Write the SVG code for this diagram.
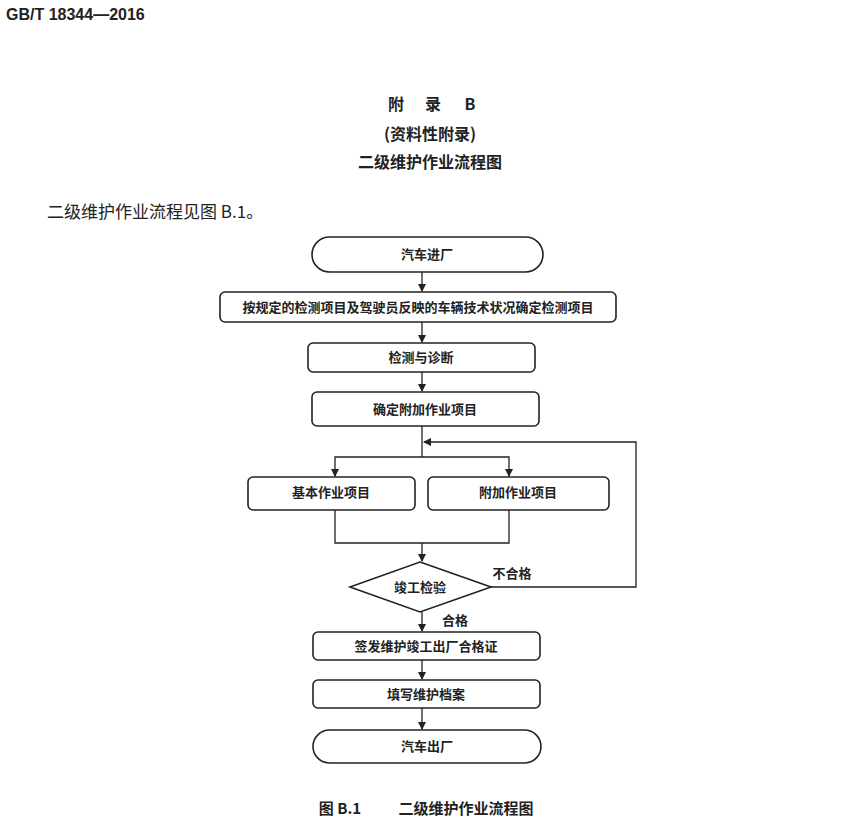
<svg xmlns="http://www.w3.org/2000/svg" width="850" height="838" viewBox="0 0 850 838">
<defs>
<marker id="ah" markerWidth="8" markerHeight="10" refX="7" refY="4" orient="auto" markerUnits="userSpaceOnUse"><path d="M0,0 L8,4 L0,8 Z" fill="#222"/></marker>
<style>
.b{fill:#fff;stroke:#222;stroke-width:1.6}
.t{font-family:"Noto Sans CJK SC","Liberation Sans",sans-serif;font-size:13px;font-weight:bold;fill:#222;text-anchor:middle}
.c{fill:none;stroke:#222;stroke-width:1.3}
</style>
</defs>
<rect width="850" height="838" fill="#fff"/>
<text x="6" y="20" style="font-family:'Liberation Sans',sans-serif;font-weight:bold;font-size:16px" fill="#222">GB/T 18344—2016</text>
<g style="font-family:'Noto Sans CJK SC',sans-serif;font-weight:bold;text-anchor:middle" fill="#222">
<text y="110" font-size="16"><tspan x="396">附</tspan><tspan x="433">录</tspan><tspan x="470">B</tspan></text>
<text x="430" y="140" font-size="16">(资料性附录)</text>
<text x="430" y="168" font-size="16">二级维护作业流程图</text>
<text y="814" font-size="15"><tspan x="340">图 B.1</tspan><tspan x="466">二级维护作业流程图</tspan></text>
</g>
<text x="47" y="218" style="font-family:'Noto Sans CJK SC',sans-serif;font-size:17px" fill="#222">二级维护作业流程见图 B.1。</text>
<g id="connectors">
<line class="c" x1="422" y1="272" x2="422" y2="291" marker-end="url(#ah)"/>
<line class="c" x1="422" y1="322" x2="422" y2="342" marker-end="url(#ah)"/>
<line class="c" x1="422" y1="372" x2="422" y2="391" marker-end="url(#ah)"/>
<polyline class="c" points="422,426 422,457"/>
<polyline class="c" points="335,476 335,457 509,457 509,476"/>
<line class="c" x1="335" y1="470" x2="335" y2="476" marker-end="url(#ah)"/>
<line class="c" x1="509" y1="470" x2="509" y2="476" marker-end="url(#ah)"/>
<polyline class="c" points="335,510 335,543 509,543 509,510"/>
<line class="c" x1="422" y1="543" x2="422" y2="561" marker-end="url(#ah)"/>
<polyline class="c" points="491,587 636,587 636,442 424,442" marker-end="url(#ah)"/>
<line class="c" x1="422" y1="612" x2="422" y2="631" marker-end="url(#ah)"/>
<line class="c" x1="422" y1="660" x2="422" y2="679" marker-end="url(#ah)"/>
<line class="c" x1="422" y1="708" x2="422" y2="729" marker-end="url(#ah)"/>
<text class="t" x="512" y="578">不合格</text>
<text class="t" x="455" y="625">合格</text>
</g>
<g id="n1"><rect class="b" x="312" y="237" width="231" height="35" rx="17.5"/><text class="t" x="427" y="259">汽车进厂</text></g>
<g id="n2"><rect class="b" x="220" y="292" width="396" height="30" rx="5"/><text class="t" x="418" y="312">按规定的检测项目及驾驶员反映的车辆技术状况确定检测项目</text></g>
<g id="n3"><rect class="b" x="308" y="343" width="227" height="29" rx="5"/><text class="t" x="421" y="362">检测与诊断</text></g>
<g id="n4"><rect class="b" x="312" y="392" width="227" height="34" rx="5"/><text class="t" x="425" y="414">确定附加作业项目</text></g>
<g id="n5"><rect class="b" x="248" y="477" width="167" height="33" rx="5"/><text class="t" x="331" y="497">基本作业项目</text></g>
<g id="n6"><rect class="b" x="428" y="477" width="181" height="33" rx="5"/><text class="t" x="518" y="497">附加作业项目</text></g>
<g id="n7"><polygon class="b" points="420,562 491,587 420,612 350,587"/><text class="t" x="420" y="592">竣工检验</text></g>
<g id="n8"><rect class="b" x="313" y="632" width="227" height="28" rx="5"/><text class="t" x="426" y="651">签发维护竣工出厂合格证</text></g>
<g id="n9"><rect class="b" x="313" y="680" width="227" height="28" rx="5"/><text class="t" x="426" y="699">填写维护档案</text></g>
<g id="n10"><rect class="b" x="313" y="730" width="228" height="33" rx="16.5"/><text class="t" x="427" y="751">汽车出厂</text></g>
</svg>
